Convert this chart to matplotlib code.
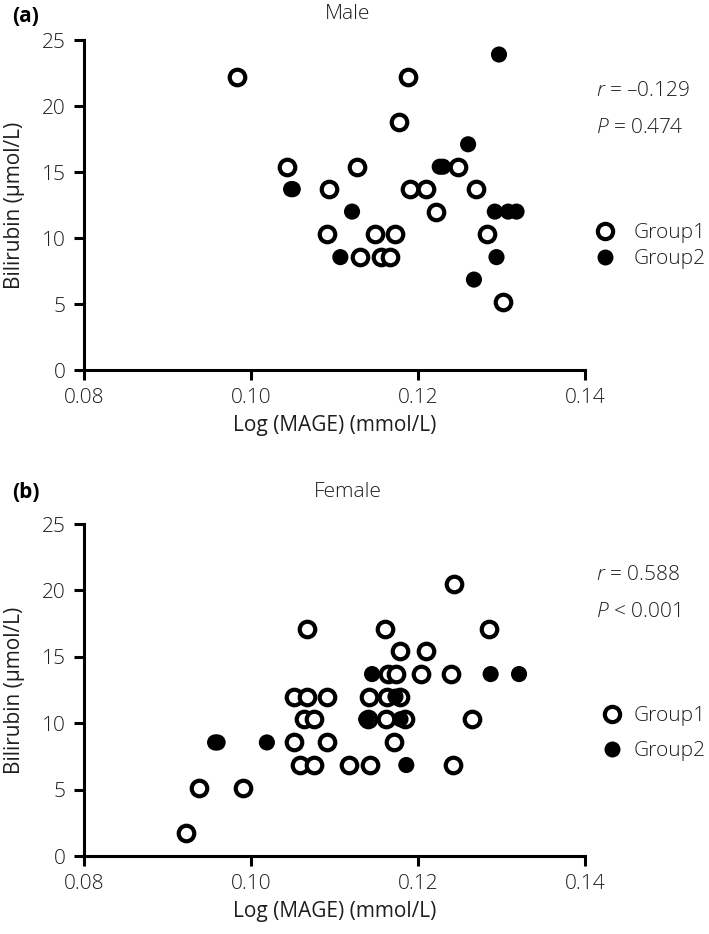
import matplotlib.pyplot as plt
from matplotlib.lines import Line2D

plt.rcParams['font.family'] = ['Open Sans', 'DejaVu Sans']
plt.rcParams['font.weight'] = 'light'
plt.rcParams['mathtext.fontset'] = 'custom'
plt.rcParams['mathtext.rm'] = 'Open Sans:light'
plt.rcParams['mathtext.it'] = 'Open Sans:italic:light'

TXT = '#1e1e1e'
FS = 15

# (a) Male
male_g1_x = [0.0983, 0.1188, 0.1177, 0.1043, 0.1127, 0.1248, 0.1093, 0.1190,
             0.1210, 0.1270, 0.1222, 0.1091, 0.1149, 0.1172, 0.1283, 0.1131,
             0.1156, 0.1167, 0.1302]
male_g1_y = [22.2, 22.2, 18.8, 15.4, 15.4, 15.4, 13.7, 13.7,
             13.7, 13.7, 12.0, 10.3, 10.3, 10.3, 10.3, 8.55,
             8.55, 8.55, 5.13]
male_g2_x = [0.1297, 0.1260, 0.1226, 0.1230, 0.1048, 0.1050, 0.1121, 0.1292,
             0.1308, 0.1318, 0.1107, 0.1294, 0.1267]
male_g2_y = [23.9, 17.1, 15.4, 15.4, 13.7, 13.7, 12.0, 12.0,
             12.0, 12.0, 8.55, 8.55, 6.85]

# (b) Female
female_g1_x = [0.1067, 0.1160, 0.1285, 0.1243, 0.1178, 0.1210, 0.1164, 0.1174,
               0.1204, 0.1240, 0.1051, 0.1067, 0.1091, 0.1141, 0.1163, 0.1179,
               0.1063, 0.1075, 0.1140, 0.1162, 0.1184, 0.1265, 0.1051, 0.1091,
               0.1171, 0.1059, 0.1075, 0.1117, 0.1143, 0.1242, 0.0938, 0.0991,
               0.0922]
female_g1_y = [17.1, 17.1, 17.1, 20.5, 15.4, 15.4, 13.7, 13.7,
               13.7, 13.7, 12.0, 12.0, 12.0, 12.0, 12.0, 12.0,
               10.3, 10.3, 10.3, 10.3, 10.3, 10.3, 8.55, 8.55,
               8.55, 6.85, 6.85, 6.85, 6.85, 6.85, 5.13, 5.13,
               1.71]
female_g2_x = [0.0957, 0.0960, 0.1019, 0.1145, 0.1287, 0.1321, 0.1173, 0.1138,
               0.1179, 0.1186]
female_g2_y = [8.55, 8.55, 8.55, 13.7, 13.7, 13.7, 12.0, 10.3,
               10.3, 6.85]

x_ticks = [0.08, 0.10, 0.12, 0.14]
x_tick_labels = ['0.08', '0.10', '0.12', '0.14']
y_ticks = [0, 5, 10, 15, 20, 25]

W, H = 709, 934
fig = plt.figure(figsize=(W / 100, H / 100), dpi=100)


def add_panel(top, bottom, xlab_gap):
    ax = fig.add_axes([84 / W, 1 - bottom / H, (585 - 84) / W, (bottom - top) / H])
    ax.set_xlim(0.08, 0.14)
    ax.set_ylim(0, 25)
    ax.set_xticks(x_ticks)
    ax.set_xticklabels(x_tick_labels)
    ax.set_yticks(y_ticks)
    for s in ['top', 'right']:
        ax.spines[s].set_visible(False)
    for s in ['left', 'bottom']:
        ax.spines[s].set_linewidth(2.2)
    ax.tick_params(width=2.2, length=7, labelsize=FS, pad=6, labelcolor=TXT)
    ax.set_xlabel('Log (MAGE) (mmol/L)', fontsize=FS, color=TXT, va='center')
    ax.set_ylabel('Bilirubin (\u00b5mol/L)', fontsize=FS, color=TXT)
    ax.yaxis.set_label_coords((25 - 84) / 501, 0.5)
    ax.xaxis.set_label_coords(0.5, -(xlab_gap / (bottom - top)))
    return ax


def scatter(ax, g1x, g1y, g2x, g2y):
    ax.scatter(g1x, g1y, s=125, facecolors='white', edgecolors='black',
               linewidths=3, clip_on=False, zorder=3)
    ax.scatter(g2x, g2y, s=135, facecolors='black', edgecolors='none',
               clip_on=False, zorder=4)


def legend(ax, x, y, pad, spacing):
    handles = [
        Line2D([], [], ls='none', marker='o', ms=11, mfc='white', mec='black', mew=3),
        Line2D([], [], ls='none', marker='o', ms=11.5, mfc='black', mec='none'),
    ]
    ax.legend(handles, ['Group1', 'Group2'], loc='center left',
              bbox_to_anchor=(x / W, 1 - y / H), bbox_transform=fig.transFigure,
              frameon=False, fontsize=FS, handlelength=1.0, handletextpad=pad,
              labelspacing=spacing, borderpad=0, borderaxespad=0, labelcolor=TXT)


ax_a = add_panel(40, 370, 56)
scatter(ax_a, male_g1_x, male_g1_y, male_g2_x, male_g2_y)
legend(ax_a, 594.6, 246, 0.85, 0.3)
fig.text(12 / W, 1 - 16 / H, '(a)', fontsize=FS, fontweight='bold', va='center', color='black')
fig.text(348 / W, 1 - 14 / H, 'Male', fontsize=FS, ha='center', va='center', color=TXT)
fig.text(596 / W, 1 - 91 / H, '$r$ = \u20130.129', fontsize=FS, va='center', color=TXT)
fig.text(596 / W, 1 - 128 / H, '$P$ = 0.474', fontsize=FS, va='center', color=TXT)

ax_b = add_panel(524, 856, 56)
scatter(ax_b, female_g1_x, female_g1_y, female_g2_x, female_g2_y)
legend(ax_b, 601.6, 733.5, 0.56, 0.72)
fig.text(12 / W, 1 - 492 / H, '(b)', fontsize=FS, fontweight='bold', va='center', color='black')
fig.text(348 / W, 1 - 492 / H, 'Female', fontsize=FS, ha='center', va='center', color=TXT)
fig.text(596 / W, 1 - 575 / H, '$r$ = 0.588', fontsize=FS, va='center', color=TXT)
fig.text(596 / W, 1 - 612 / H, '$P$ < 0.001', fontsize=FS, va='center', color=TXT)

fig.savefig('out.png', dpi=100)
